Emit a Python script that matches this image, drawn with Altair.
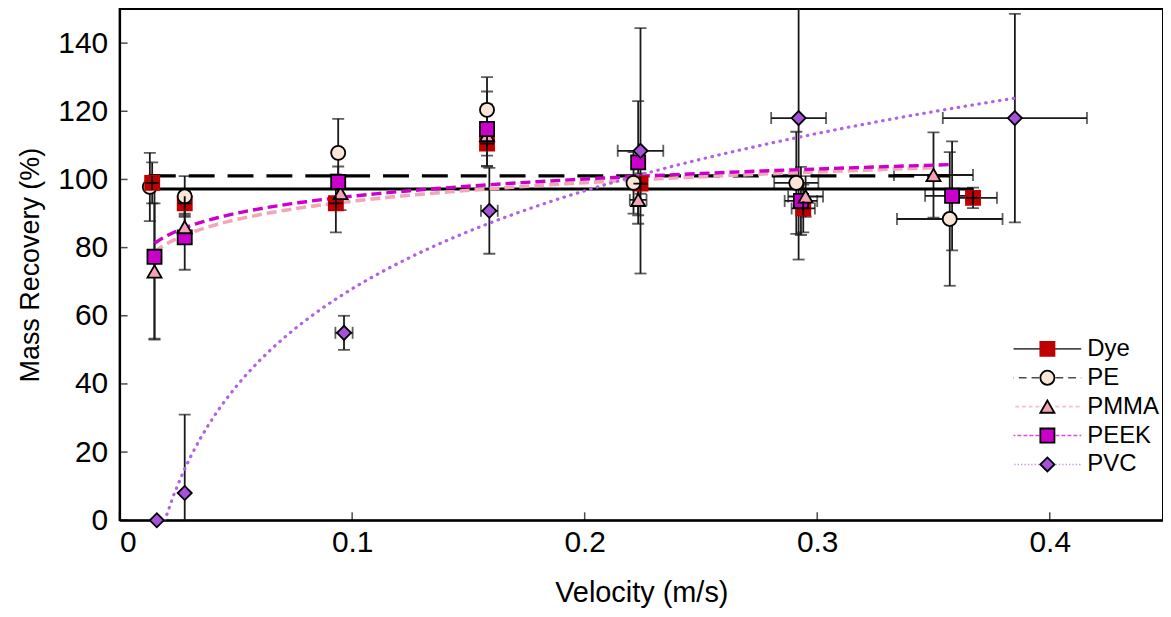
import altair as alt
import pandas as pd

series_names = ["Dye", "PE", "PMMA", "PEEK", "PVC"]

dye_vel = [0.014, 0.028, 0.093, 0.158, 0.224, 0.294, 0.367]
dye_rec = [99.0, 93.0, 93.0, 110.5, 98.8, 91.5, 94.6]
dye_rec_err = [6.0, 3.5, 8.5, 3.5, 3.0, 7.0, 3.0]
dye_vel_err = [0, 0, 0, 0, 0, 0.005, 0.0103]

pe_vel = [0.013, 0.028, 0.094, 0.158, 0.221, 0.291, 0.357]
pe_rec = [97.8, 95.0, 107.8, 120.4, 99.0, 99.0, 88.4]
pe_rec_err = [10.0, 6.0, 10.0, 9.6, 9.0, 15.0, 19.6]
pe_vel_err = [0, 0, 0, 0, 0, 0.0095, 0.0227]

pmma_vel = [0.015, 0.028, 0.095, 0.158, 0.223, 0.295, 0.350]
pmma_rec = [73.0, 86.0, 96.0, 113.0, 94.0, 95.0, 101.3]
pmma_rec_err = [20.0, 4.0, 5.0, 9.0, 4.5, 6.0, 12.5]
pmma_vel_err = [0, 0, 0, 0, 0.0036, 0.0075, 0.017]

peek_vel = [0.015, 0.028, 0.094, 0.158, 0.223, 0.293, 0.358]
peek_rec = [77.3, 83.0, 99.3, 114.8, 105.0, 93.7, 95.2]
peek_rec_err = [24.0, 9.5, 4.5, 11.0, 18.0, 10.0, 16.0]
peek_vel_err = [0, 0, 0, 0, 0, 0.007, 0.0116]

pvc_vel = [0.016, 0.028, 0.0965, 0.159, 0.224, 0.292, 0.385]
pvc_rec = [0.0, 8.0, 55.0, 90.8, 108.4, 118.0, 118.0]
pvc_rec_err = [0, 23.0, 5.0, 12.6, 36.0, 41.5, 30.6]
pvc_vel_err = [0, 0, 0.0037, 0.0036, 0.0098, 0.0118, 0.031]

x_ticks = [0, 0.1, 0.2, 0.3, 0.4]
y_ticks = [0, 20, 40, 60, 80, 100, 120, 140]

fill_colors = ["#C00000", "#FBE5D6", "#F4A3B6", "#CC00CC", "#A352D9"]
stroke_colors = ["#C00000", "#000000", "#000000", "#000000", "#000000"]
shapes = ["square", "circle", "triangle-up", "square", "diamond"]
line_colors = ["#000000", "#000000", "#F2A7B8", "#CC00CC", "#B062E3"]

FONT = "Liberation Sans"


def dash_path(on, off, reach=4.8, gap=1.15, through=False):
    """Legend-only line sample drawn as a symbol path (styling, not data)."""
    if through:
        return f"M{-reach},0H{reach}M0,-1V1"
    segs = []
    for sign in (-1, 1):
        p = gap
        while p < reach:
            q = min(p + on, reach)
            segs.append(f"M{sign * p:.2f},0H{sign * q:.2f}")
            p = q + off
    return "".join(segs)


leg_paths = [
    dash_path(0, 0, through=True),
    dash_path(1.1, 0.7),
    dash_path(0.55, 0.4),
    dash_path(0.55, 0.3),
    dash_path(0.18, 0.3),
]
leg_line_names = [s + " line" for s in series_names]

rows = []
for name, v, r, re_, ve in [
    ("Dye", dye_vel, dye_rec, dye_rec_err, dye_vel_err),
    ("PE", pe_vel, pe_rec, pe_rec_err, pe_vel_err),
    ("PMMA", pmma_vel, pmma_rec, pmma_rec_err, pmma_vel_err),
    ("PEEK", peek_vel, peek_rec, peek_rec_err, peek_vel_err),
    ("PVC", pvc_vel, pvc_rec, pvc_rec_err, pvc_vel_err),
]:
    for i in range(len(v)):
        rows.append({"series": name, "vel": v[i], "rec": r[i],
                     "rec_err": re_[i], "vel_err": ve[i]})
df = pd.DataFrame(rows)

xs = alt.Scale(domain=[0, 0.4487], nice=False, zero=False)
ys = alt.Scale(domain=[0, 150], nice=False, zero=False)
x_axis = alt.Axis(values=x_ticks, format=".1~f", title="Velocity (m/s)", ticks=False,
                  grid=False, labelPadding=7, titlePadding=22,
                  labelFontSize=30, titleFontSize=29)
y_axis = alt.Axis(values=y_ticks, title="Mass Recovery (%)", ticks=False, grid=False,
                  labelPadding=12, titlePadding=13,
                  labelFontSize=30, titleFontSize=27)


def X(f):
    return alt.X(f, type="quantitative", scale=xs, axis=x_axis)


def Y(f):
    return alt.Y(f, type="quantitative", scale=ys, axis=y_axis)


base = alt.Chart(df).transform_calculate(
    rec_lo="datum.rec - datum.rec_err",
    rec_hi="datum.rec + datum.rec_err",
    vel_lo="datum.vel - datum.vel_err",
    vel_hi="datum.vel + datum.vel_err",
)

ERR = "#1a1a1a"
verr = base.transform_filter("datum.rec_err > 0")
herr = base.transform_filter("datum.vel_err > 0")

v_rule = verr.mark_rule(color=ERR, strokeWidth=1.8, clip=True).encode(
    x=X("vel"), y=Y("rec_lo"), y2=alt.Y2("rec_hi"))
v_cap_lo = verr.mark_tick(orient="horizontal", color=ERR, size=12, thickness=1.8, clip=True).encode(
    x=X("vel"), y=Y("rec_lo"))
v_cap_hi = verr.mark_tick(orient="horizontal", color=ERR, size=12, thickness=1.8, clip=True).encode(
    x=X("vel"), y=Y("rec_hi"))
h_rule = herr.mark_rule(color=ERR, strokeWidth=1.8, clip=True).encode(
    y=Y("rec"), x=X("vel_lo"), x2=alt.X2("vel_hi"))
h_cap_lo = herr.mark_tick(orient="vertical", color=ERR, size=12, thickness=1.8, clip=True).encode(
    y=Y("rec"), x=X("vel_lo"))
h_cap_hi = herr.mark_tick(orient="vertical", color=ERR, size=12, thickness=1.8, clip=True).encode(
    y=Y("rec"), x=X("vel_hi"))

# fits
dye_fit = alt.Chart(df).transform_filter("datum.series == 'Dye'").transform_aggregate(
    m="mean(rec)", x0="min(vel)", x1="max(vel)").mark_rule(
    color="black", strokeWidth=3, clip=True).encode(x=X("x0:Q"), x2=alt.X2("x1:Q"), y=Y("m:Q"))
pe_fit = alt.Chart(df).transform_filter("datum.series == 'PE'").transform_aggregate(
    m="mean(rec)", x0="min(vel)", x1="max(vel)").mark_rule(
    color="black", strokeWidth=3.2, strokeDash=[26, 13], clip=True).encode(
    x=X("x0:Q"), x2=alt.X2("x1:Q"), y=Y("m:Q"))


def log_fit(name, color, dash, width, cap="butt"):
    return alt.Chart(df).transform_filter(f"datum.series == '{name}'").transform_regression(
        "vel", "rec", method="log").mark_line(
        color=color, strokeWidth=width, strokeDash=dash, strokeCap=cap, clip=True).encode(
        x=X("vel"), y=Y("rec"))


pmma_fit = log_fit("PMMA", "#F2A7B8", [10, 5], 3.6)
peek_fit = log_fit("PEEK", "#CC00CC", [10, 5], 3.4)
pvc_fit = log_fit("PVC", "#B062E3", [0.5, 6.5], 3.2, "round")

LEG_X, LEG_Y = 919, 329
leg = alt.Legend(orient="none", legendX=LEG_X, legendY=LEG_Y, title=None,
                 labelFontSize=24, labelFont=FONT, labelColor="black",
                 symbolSize=200, rowPadding=5, labelOffset=28, padding=0,
                 symbolStrokeWidth=1.8)
leg_lines = alt.Legend(orient="none", legendX=LEG_X, legendY=LEG_Y, title=None,
                       labelFontSize=24, labelFont=FONT, labelExpr="''",
                       symbolSize=200, rowPadding=5, labelOffset=28, padding=0,
                       symbolStrokeWidth=1.6)

# legend-only layer: its points sit outside the x domain and are clipped away
leg_df = pd.DataFrame({"lname": leg_line_names, "vel": [-1.0] * 5, "rec": [-1.0] * 5})
leg_layer = alt.Chart(leg_df).mark_point(filled=False, size=200, clip=True).encode(
    x=X("vel"), y=Y("rec"),
    shape=alt.Shape("lname:N", scale=alt.Scale(domain=leg_line_names, range=leg_paths), legend=leg_lines),
    color=alt.Color("lname:N", scale=alt.Scale(domain=leg_line_names, range=line_colors), legend=leg_lines),
)

points = alt.Chart(df).mark_point(filled=True, size=200, strokeWidth=1.8, opacity=1).encode(
    x=X("vel"), y=Y("rec"),
    fill=alt.Fill("series:N", scale=alt.Scale(domain=series_names, range=fill_colors), legend=leg),
    shape=alt.Shape("series:N", scale=alt.Scale(domain=series_names, range=shapes), legend=leg),
    stroke=alt.Stroke("series:N", scale=alt.Scale(domain=series_names, range=stroke_colors), legend=leg),
    order=alt.Order("rec:Q"),
)

dye_cross = alt.Chart(df).transform_filter("datum.series == 'Dye'").mark_point(
    shape="M0,-1V1M-1,0H1", size=200, filled=False, stroke="black", strokeWidth=1.8, opacity=1
).encode(x=X("vel"), y=Y("rec"))

yt = alt.Chart(pd.DataFrame({"t": y_ticks})).mark_tick(
    orient="horizontal", color="black", size=8, thickness=1.5).encode(y=Y("t:Q"), x=alt.value(4))
xt = alt.Chart(pd.DataFrame({"t": x_ticks})).mark_tick(
    orient="vertical", color="black", size=8, thickness=1.5).encode(x=X("t:Q"), y=alt.value(509))

chart = alt.layer(
    leg_layer,
    v_rule, v_cap_lo, v_cap_hi, h_rule, h_cap_lo, h_cap_hi,
    dye_fit, pe_fit, pmma_fit, peek_fit, pvc_fit,
    points, dye_cross, yt, xt,
).resolve_scale(
    shape="independent", fill="independent", stroke="independent", color="independent"
).properties(
    width=1047, height=513,
    padding={"left": 112, "top": 0, "right": 0, "bottom": 88},
    autosize=alt.AutoSizeParams(type="none"),
).configure_view(
    stroke="black", strokeWidth=2
).configure_axis(
    labelFont=FONT, titleFont=FONT,
    labelColor="black", titleColor="black", titleFontWeight="normal",
    domainColor="black", domainWidth=2,
)

chart.save("out.html", embed_options={"renderer": "svg", "actions": False})
